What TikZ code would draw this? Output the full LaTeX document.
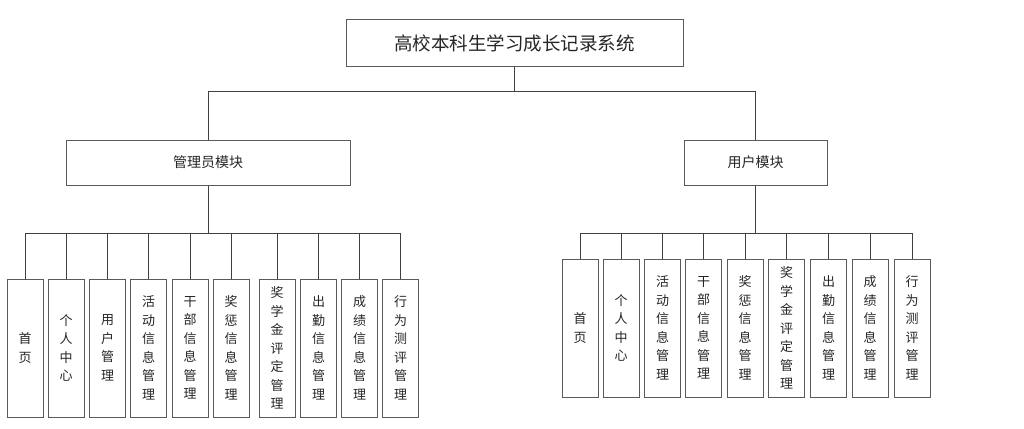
\documentclass[tikz,border=0pt]{standalone}
\usepackage{fontspec}
\newfontfamily\cjk{Noto Sans CJK SC}
\definecolor{boxline}{HTML}{5A5A5A}
\definecolor{conline}{HTML}{404040}
\begin{document}
\begin{tikzpicture}[x=1pt,y=-1pt,
  box/.style={draw=boxline,line width=1pt,fill=white,inner sep=0pt,align=center,text=black!85},
  topbox/.style={box,minimum width=337pt,minimum height=46pt,font=\cjk\fontsize{18.5}{22}\selectfont},
  modbox/.style={box,minimum height=45pt,font=\cjk\fontsize{14}{17}\selectfont},
  leaf/.style={box,minimum width=36pt,minimum height=138pt,font=\cjk\fontsize{13}{18.5}\selectfont},
  con/.style={draw=conline,line width=1pt}]
\useasboundingbox[fill=white] (0,0) rectangle (1024,428);

\node[topbox] (top) at (514.5,43) {高校本科生学习成长记录系统};
\node[modbox,minimum width=284pt] (admin) at (208,162.5) {管理员模块};
\node[modbox,minimum width=143pt] (user) at (755.5,162.5) {用户模块};

\coordinate (tj) at (514.5,91);
\draw[con] (top.south) -- (tj) -| (admin.north);
\draw[con] (tj) -| (user.north);

% admin leaves
\node[leaf] (a1) at (25,348) {首\\页};
\node[leaf] (a2) at (66,348) {个\\人\\中\\心};
\node[leaf] (a3) at (107.5,348) {用\\户\\管\\理};
\node[leaf] (a4) at (148.5,348) {活\\动\\信\\息\\管\\理};
\node[leaf] (a5) at (190,348) {干\\部\\信\\息\\管\\理};
\node[leaf] (a6) at (231,348) {奖\\惩\\信\\息\\管\\理};
\node[leaf] (a7) at (277,348) {奖\\学\\金\\评\\定\\管\\理};
\node[leaf] (a8) at (318.5,348) {出\\勤\\信\\息\\管\\理};
\node[leaf] (a9) at (359.5,348) {成\\绩\\信\\息\\管\\理};
\node[leaf] (a10) at (400.5,348) {行\\为\\测\\评\\管\\理};

\coordinate (aj) at (208,233);
\draw[con] (admin.south) -- (aj);
\foreach \i in {1,...,10}{
  \draw[con] (aj) -| (a\i.north);
}

% user leaves
\node[leaf] (u1) at (580,328) {首\\页};
\node[leaf] (u2) at (621,328) {个\\人\\中\\心};
\node[leaf] (u3) at (662.5,328) {活\\动\\信\\息\\管\\理};
\node[leaf] (u4) at (703.5,328) {干\\部\\信\\息\\管\\理};
\node[leaf] (u5) at (745,328) {奖\\惩\\信\\息\\管\\理};
\node[leaf] (u6) at (786.5,328) {奖\\学\\金\\评\\定\\管\\理};
\node[leaf] (u7) at (828.5,328) {出\\勤\\信\\息\\管\\理};
\node[leaf] (u8) at (870,328) {成\\绩\\信\\息\\管\\理};
\node[leaf] (u9) at (912,328) {行\\为\\测\\评\\管\\理};

\coordinate (uj) at (755.5,233);
\draw[con] (user.south) -- (uj);
\foreach \i in {1,...,9}{
  \draw[con] (uj) -| (u\i.north);
}
\end{tikzpicture}
\end{document}
